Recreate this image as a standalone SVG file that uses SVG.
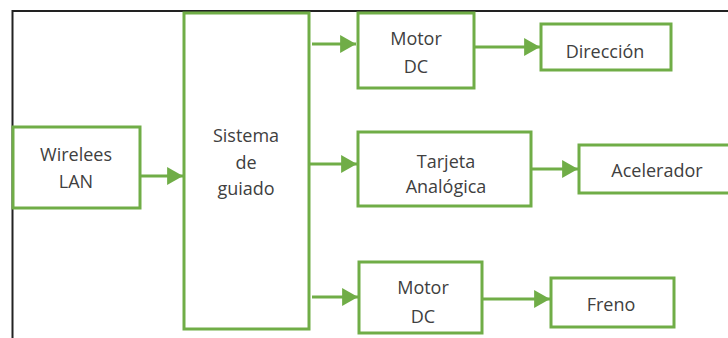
<svg xmlns="http://www.w3.org/2000/svg" width="728" height="338" viewBox="0 0 728 338">
<defs>
<style>
.box{fill:#fff;stroke:#70AD47;stroke-width:3}
.t{font-family:"Open Sans","Liberation Sans",sans-serif;font-size:18px;fill:#404040;text-anchor:middle}
.c{stroke:#70AD47;stroke-width:3;fill:none}
</style>
<marker id="ah" markerWidth="6" markerHeight="6" refX="5.3" refY="3" orient="auto" markerUnits="strokeWidth">
<path d="M0,0 L5.3,3 L0,6 Z" fill="#70AD47"/>
</marker>
</defs>
<rect width="728" height="338" fill="#fff"/>
<path d="M12.5,338 V11 H728" fill="none" stroke="#222" stroke-width="2"/>
<g id="n-wireless"><rect class="box" x="13" y="127" width="127" height="81"/><text class="t" x="76" y="161">Wirelees</text><text class="t" x="76" y="188">LAN</text></g>
<g id="n-sistema"><rect class="box" x="184" y="13" width="125" height="316"/><text class="t" x="246" y="142">Sistema</text><text class="t" x="246" y="169">de</text><text class="t" x="246" y="195">guiado</text></g>
<g id="n-motor1"><rect class="box" x="358" y="13" width="116" height="75"/><text class="t" x="416" y="45">Motor</text><text class="t" x="416" y="73">DC</text></g>
<g id="n-direccion"><rect class="box" x="541" y="24" width="130" height="46"/><text class="t" x="605" y="58">Dirección</text></g>
<g id="n-tarjeta"><rect class="box" x="358" y="132" width="173" height="74"/><text class="t" x="446" y="168">Tarjeta</text><text class="t" x="446" y="193">Analógica</text></g>
<g id="n-acelerador"><rect class="box" x="579" y="145" width="160" height="48"/><text class="t" x="657" y="177">Acelerador</text></g>
<g id="n-motor2"><rect class="box" x="359" y="262" width="123" height="71"/><text class="t" x="423" y="294">Motor</text><text class="t" x="423" y="323">DC</text></g>
<g id="n-freno"><rect class="box" x="551" y="278" width="123" height="49"/><text class="t" x="611" y="311">Freno</text></g>
<g id="connectors">
<line class="c" x1="140" y1="176" x2="183" y2="176" marker-end="url(#ah)"/>
<line class="c" x1="312" y1="44" x2="356" y2="44" marker-end="url(#ah)"/>
<line class="c" x1="309" y1="164" x2="357" y2="164" marker-end="url(#ah)"/>
<line class="c" x1="312" y1="297" x2="358" y2="297" marker-end="url(#ah)"/>
<line class="c" x1="474" y1="47" x2="540" y2="47" marker-end="url(#ah)"/>
<line class="c" x1="531" y1="169" x2="578" y2="169" marker-end="url(#ah)"/>
<line class="c" x1="482" y1="299" x2="550" y2="299" marker-end="url(#ah)"/>
</g>
</svg>
